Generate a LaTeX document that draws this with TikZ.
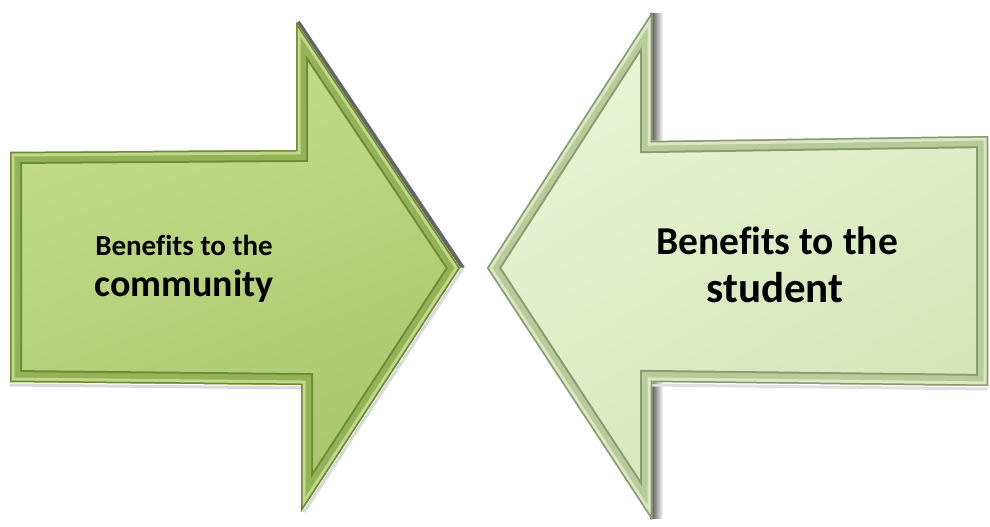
\documentclass[tikz,border=0pt]{standalone}
\usepackage{fontspec}
\setmainfont[Ligatures=NoCommon]{Carlito}
\definecolor{lfaceA}{HTML}{C8E090}
\definecolor{lfaceB}{HTML}{A9C46A}
\definecolor{lbevO}{HTML}{6E8C36}
\definecolor{lbevM}{HTML}{94B256}
\definecolor{lbevH}{HTML}{D4E8A4}
\definecolor{rfaceA}{HTML}{EAF6D6}
\definecolor{rfaceB}{HTML}{D4E3B6}
\definecolor{rbevO}{HTML}{8A9A72}
\definecolor{rbevM}{HTML}{BACB9A}
\definecolor{rbevH}{HTML}{F2F9E4}
\tikzset{
  lbl/.style={font=\bfseries, text=black, inner sep=0pt, anchor=base},
}
\begin{document}
\begin{tikzpicture}[x=1pt,y=-1pt]
\useasboundingbox (0,0) rectangle (990,527);
% left arrow points
\coordinate (a1) at (10,152);
\coordinate (a2) at (296,150);
\coordinate (a3) at (296,22);
\coordinate (a4) at (460,268);
\coordinate (a5) at (301,512);
\coordinate (a6) at (301,385);
\coordinate (a7) at (10,382);
% right arrow points
\coordinate (b1) at (487,268);
\coordinate (b2) at (652,12);
\coordinate (b3) at (652,141);
\coordinate (b4) at (988,136);
\coordinate (b5) at (988,386);
\coordinate (b6) at (652,382);
\coordinate (b7) at (652,520);
% shadows
\draw[line width=4pt, black!75, opacity=.8] ([xshift=2pt]a3) -- ([xshift=3pt]a4);
\draw[line width=3pt, black!15] ([yshift=-3pt]a7) -- ([yshift=-3pt]a6);
\draw[line width=3pt, black!15] ([xshift=3pt]a4) -- ([xshift=3pt]a5);
\shade[left color=black!75, right color=white] (650,14) rectangle (663,141);
\shade[left color=black!75, right color=white] (650,382) rectangle (663,518);
\draw[line width=3pt, black!12] ([yshift=-3pt]b6) -- ([yshift=-3pt]b5);
% left arrow body
\begin{scope}
\clip (a1) -- (a2) -- (a3) -- (a4) -- (a5) -- (a6) -- (a7) -- cycle;
\shade[top color=lfaceA, bottom color=lfaceB, shading angle=20] (0,0) rectangle (470,527);
\draw[line width=24pt, lbevO, line join=miter] (a1) -- (a2) -- (a3) -- (a4) -- (a5) -- (a6) -- (a7) -- cycle;
\draw[line width=20pt, lbevM, line join=miter] (a1) -- (a2) -- (a3) -- (a4) -- (a5) -- (a6) -- (a7) -- cycle;
\draw[line width=9pt, lbevH!70!lbevM, line join=miter] (a1) -- (a2) -- (a3) -- (a4) -- (a5) -- (a6) -- (a7) -- cycle;
\draw[line width=3pt, lbevO, line join=miter] (a1) -- (a2) -- (a3) -- (a4) -- (a5) -- (a6) -- (a7) -- cycle;
\end{scope}
% right arrow body
\begin{scope}
\clip (b1) -- (b2) -- (b3) -- (b4) -- (b5) -- (b6) -- (b7) -- cycle;
\shade[top color=rfaceA, bottom color=rfaceB, shading angle=30] (480,0) rectangle (990,527);
\draw[line width=24pt, rbevO, line join=miter] (b1) -- (b2) -- (b3) -- (b4) -- (b5) -- (b6) -- (b7) -- cycle;
\draw[line width=20pt, rbevM, line join=miter] (b1) -- (b2) -- (b3) -- (b4) -- (b5) -- (b6) -- (b7) -- cycle;
\draw[line width=9pt, rbevH!60!rbevM, line join=miter] (b1) -- (b2) -- (b3) -- (b4) -- (b5) -- (b6) -- (b7) -- cycle;
\draw[line width=3pt, rbevO, line join=miter] (b1) -- (b2) -- (b3) -- (b4) -- (b5) -- (b6) -- (b7) -- cycle;
\end{scope}
% labels
\node[lbl, font=\bfseries\fontsize{29}{31}\selectfont] (L1) at (184,255) {Benefits to the};
\node[lbl, font=\bfseries\fontsize{38}{40}\selectfont] (L2) at (184,296) {community};
\node[lbl, font=\bfseries\fontsize{39.5}{41}\selectfont] (R1) at (777,254) {Benefits to the};
\node[lbl, font=\bfseries\fontsize{43}{45}\selectfont] (R2) at (775,302) {student};
\end{tikzpicture}
\end{document}
